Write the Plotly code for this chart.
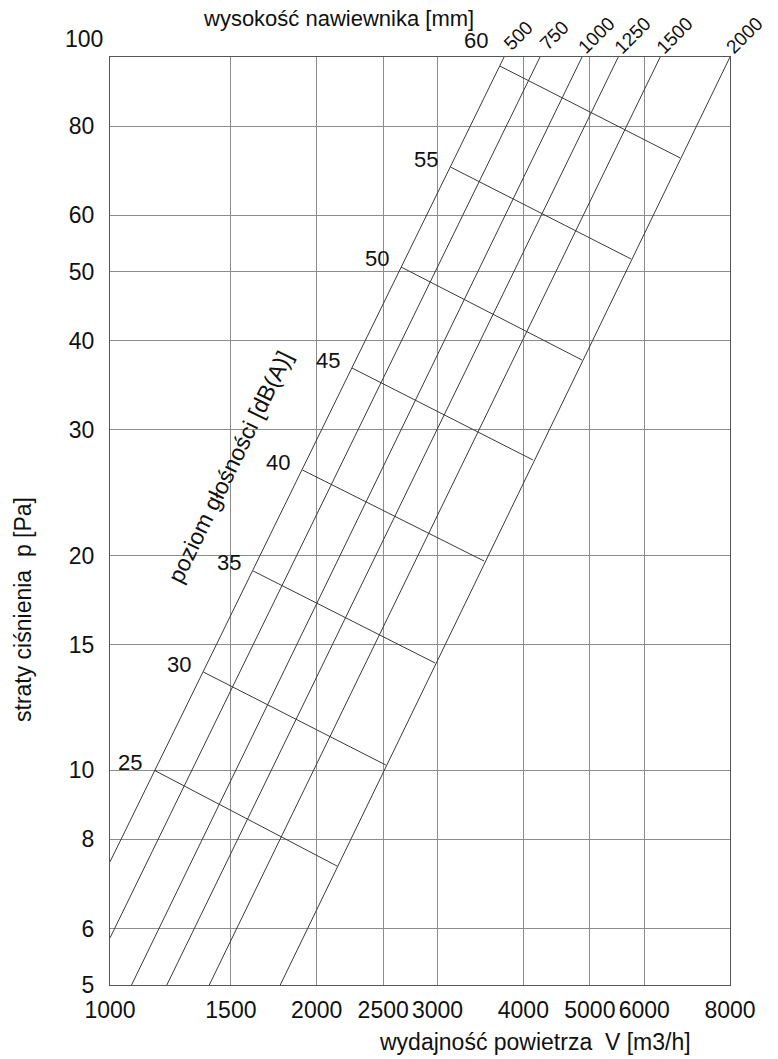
import math
import plotly.graph_objects as go

# Pressure-loss characteristic of a supply diffuser (log-log nomogram)
# Height lines: flow V [m3/h] and pressure loss p [Pa] at both ends of each line
heights = ["500", "750", "1000", "1250", "1500", "2000"]
height_v_low = [1000, 1000, 1075, 1210, 1395, 1770]
height_p_low = [7.44, 5.82, 5.0, 5.0, 5.0, 5.0]
height_v_top = [3750, 4230, 4870, 5500, 6330, 8000]
height_p_top = [100, 100, 100, 100, 100, 100]

# Noise-level lines [dB(A)]: start on the 500 mm line, end on the 2000 mm line
db_levels = [25, 30, 35, 40, 45, 50, 55, 60]
db_v_start = [1160, 1368, 1616, 1907, 2252, 2654, 3133, 3699]
db_p_start = [10.0, 13.73, 19.03, 26.36, 36.64, 50.77, 70.1, 97.1]
db_v_end = [2142, 2523, 2975, 3506, 4131, 4870, 5741, 6766]
db_p_end = [7.34, 10.17, 14.14, 19.65, 27.23, 37.6, 52.1, 72.2]

x_ticks = [1000, 1500, 2000, 2500, 3000, 4000, 5000, 6000, 8000]
y_ticks = [5, 6, 8, 10, 15, 20, 30, 40, 50, 60, 80, 100]

FONT = "Arial, Liberation Sans, Helvetica, sans-serif"
LINE = "#3a3a3a"
GRID = "#8c8c8c"
TXT = "#111"

lg = math.log10  # annotations on log axes take log10 coordinates

fig = go.Figure()

for i, h in enumerate(heights):
    fig.add_trace(go.Scatter(
        x=[height_v_low[i], height_v_top[i]],
        y=[height_p_low[i], height_p_top[i]],
        mode="lines", line=dict(color=LINE, width=1),
        hoverinfo="skip", showlegend=False))

for i, lvl in enumerate(db_levels):
    fig.add_trace(go.Scatter(
        x=[db_v_start[i], db_v_end[i]],
        y=[db_p_start[i], db_p_end[i]],
        mode="lines", line=dict(color=LINE, width=1),
        hoverinfo="skip", showlegend=False))

annotations = []

# dB(A) labels just left of the start of each noise line
for i, lvl in enumerate(db_levels):
    annotations.append(dict(
        x=lg(db_v_start[i]), y=lg(db_p_start[i]), xref="x", yref="y",
        text=str(lvl), showarrow=False, xanchor="center", yanchor="middle",
        xshift=-24, yshift=8 if lvl < 60 else 26,
        font=dict(family=FONT, size=22, color=TXT)))

# Diffuser height labels above the top ends of the height lines
for i, h in enumerate(heights):
    annotations.append(dict(
        x=lg(height_v_top[i]), y=lg(height_p_top[i]), xref="x", yref="y",
        text=h, showarrow=False, textangle=-45,
        xanchor="center", yanchor="middle", xshift=14, yshift=22,
        font=dict(family=FONT, size=19, color=TXT)))

# top-left "100" label of the pressure axis
annotations.append(dict(
    x=0, y=2, xref="paper", yref="y", text="100", showarrow=False,
    xanchor="right", yanchor="middle", xshift=-5, yshift=18,
    font=dict(family=FONT, size=23, color=TXT)))

annotations.append(dict(
    x=(338 - 110) / 620, y=1, xref="paper", yref="paper",
    text="wysokość nawiewnika [mm]", showarrow=False,
    xanchor="center", yanchor="middle", yshift=39,
    font=dict(family=FONT, size=22, color=TXT)))

annotations.append(dict(
    x=(230 - 110) / 620, y=(985 - 467) / 928, xref="paper", yref="paper",
    text="poziom głośności [dB(A)]", showarrow=False, textangle=-64,
    xanchor="center", yanchor="middle",
    font=dict(family=FONT, size=23, color=TXT)))

annotations.append(dict(
    x=(23 - 110) / 620, y=(985 - 610) / 928, xref="paper", yref="paper",
    text="straty ciśnienia  p [Pa]", showarrow=False, textangle=-90,
    xanchor="center", yanchor="middle",
    font=dict(family=FONT, size=23, color=TXT)))

annotations.append(dict(
    x=(535 - 110) / 620, y=0, xref="paper", yref="paper",
    text="wydajność powietrza  V [m3/h]", showarrow=False,
    xanchor="center", yanchor="middle", yshift=-57,
    font=dict(family=FONT, size=23, color=TXT)))

fig.update_layout(
    width=778, height=1059,
    margin=dict(l=110, r=48, t=57, b=74),
    paper_bgcolor="white", plot_bgcolor="white",
    annotations=annotations,
    font=dict(family=FONT, size=23, color=TXT),
    xaxis=dict(
        type="log", range=[3, lg(8000)],
        tickvals=x_ticks, ticktext=[str(v) for v in x_ticks],
        showgrid=True, gridcolor=GRID, gridwidth=1,
        showline=True, linecolor="#555", linewidth=1, mirror=True,
        ticks="", ticklabelstandoff=4, zeroline=False,
        tickfont=dict(family=FONT, size=23, color=TXT)),
    yaxis=dict(
        type="log", range=[lg(5), 2],
        tickvals=y_ticks, ticktext=[str(v) if v != 100 else "" for v in y_ticks],
        showgrid=True, gridcolor=GRID, gridwidth=1,
        showline=True, linecolor="#555", linewidth=1, mirror=True,
        ticks="", ticklabelstandoff=10, zeroline=False,
        tickfont=dict(family=FONT, size=23, color=TXT)),
)

fig.write_html("out.html")
